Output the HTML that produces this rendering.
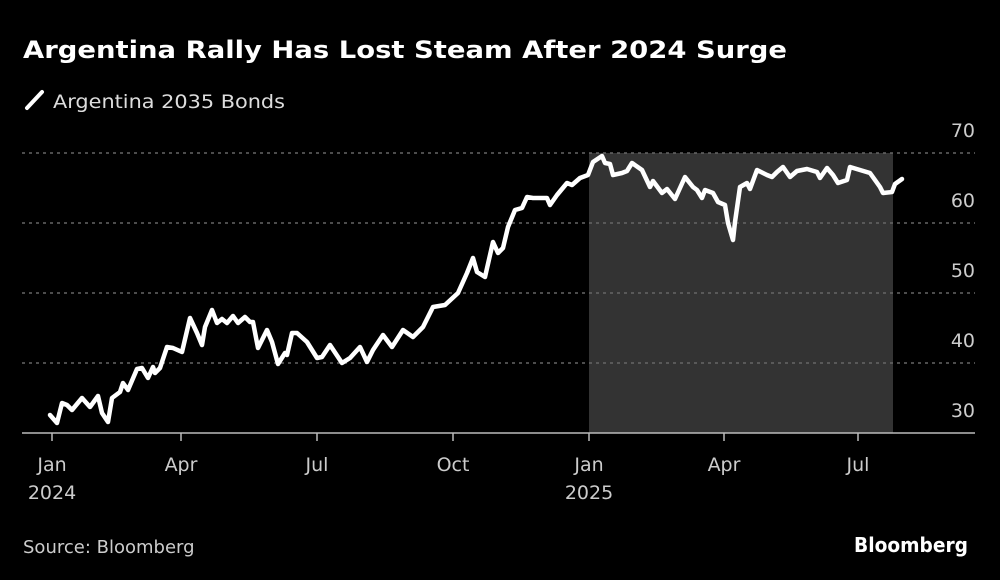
<!DOCTYPE html>
<html><head><meta charset="utf-8"><style>
html,body{margin:0;padding:0;background:#000;}
svg{display:block;}
text{font-family:"DejaVu Sans","Liberation Sans",sans-serif;}
</style></head><body>
<svg width="1000" height="580" viewBox="0 0 1000 580" xmlns="http://www.w3.org/2000/svg">
<rect width="1000" height="580" fill="#000"/>
<text x="23" y="58" font-size="24" font-weight="bold" fill="#fff" textLength="764" lengthAdjust="spacingAndGlyphs">Argentina Rally Has Lost Steam After 2024 Surge</text>
<line x1="27" y1="108" x2="42" y2="92" stroke="#fff" stroke-width="4" stroke-linecap="round"/>
<text x="53" y="108" font-size="19" fill="#ddd" textLength="232" lengthAdjust="spacingAndGlyphs">Argentina 2035 Bonds</text>
<rect x="589" y="153" width="304" height="280" fill="#333"/>
<g stroke="#666" stroke-width="1.5" stroke-dasharray="3,4">
<line x1="22" y1="153" x2="975" y2="153"/>
<line x1="22" y1="223" x2="975" y2="223"/>
<line x1="22" y1="293" x2="975" y2="293"/>
<line x1="22" y1="363" x2="975" y2="363"/>
</g>
<line x1="22" y1="433" x2="975" y2="433" stroke="#bbb" stroke-width="1.5"/>
<g stroke="#bbb" stroke-width="1.5">
<line x1="52" y1="433" x2="52" y2="441"/><line x1="181" y1="433" x2="181" y2="441"/>
<line x1="317" y1="433" x2="317" y2="441"/><line x1="453" y1="433" x2="453" y2="441"/>
<line x1="589" y1="433" x2="589" y2="441"/><line x1="724" y1="433" x2="724" y2="441"/>
<line x1="858" y1="433" x2="858" y2="441"/>
</g>
<g font-size="19" fill="#ccc" text-anchor="end">
<text x="975" y="137">70</text><text x="975" y="207">60</text>
<text x="975" y="277">50</text><text x="975" y="347">40</text>
<text x="975" y="417">30</text>
</g>
<g font-size="19" fill="#ccc" text-anchor="middle">
<text x="52" y="471">Jan</text><text x="52" y="499">2024</text>
<text x="181" y="471">Apr</text><text x="317" y="471">Jul</text>
<text x="453" y="471">Oct</text>
<text x="589" y="471">Jan</text><text x="589" y="499">2025</text>
<text x="724" y="471">Apr</text><text x="858" y="471">Jul</text>
</g>
<polyline fill="none" stroke="#fff" stroke-width="4.5" stroke-linejoin="round" stroke-linecap="round" points="50,415 57,423 62,403 67,405 72,410 82,398 90,407 98,396 102,413 108,422 112,398 120,392 123,383 128,390 137,369 142,368 148,378 153,367 155,373 160,368 167,347 173,348 182,352 190,318 197,333 202,345 205,327 212,310 217,323 222,319 227,323 233,316 238,323 245,317 250,322 253,322 258,348 267,330 272,342 278,364 285,353 287,355 292,333 297,333 307,342 317,358 322,357 330,345 342,363 350,358 360,347 367,362 373,350 383,335 392,347 403,330 413,337 423,327 433,307 445,305 458,293 467,273 473,258 477,272 485,277 493,242 498,253 503,248 508,227 515,210 522,208 527,197 533,198 547,198 550,205 557,195 567,183 572,185 580,178 588,175 593,162 602,156 605,163 610,164 613,175 622,173 627,171 632,163 642,170 650,187 653,181 662,193 667,189 675,199 685,177 693,187 697,190 702,198 705,190 713,193 718,202 725,205 728,223 733,240 735,222 740,187 747,183 750,189 757,170 767,175 772,177 777,172 783,167 790,177 797,171 807,169 817,172 820,178 827,168 833,175 838,183 847,180 850,167 860,170 870,173 880,187 883,193 892,192 895,184 902,179"/>
<text x="23" y="553" font-size="18" fill="#ccc">Source: Bloomberg</text>
<text x="968" y="552" font-size="20" font-weight="bold" fill="#fff" text-anchor="end" textLength="114" lengthAdjust="spacingAndGlyphs">Bloomberg</text>
</svg>
</body></html>
